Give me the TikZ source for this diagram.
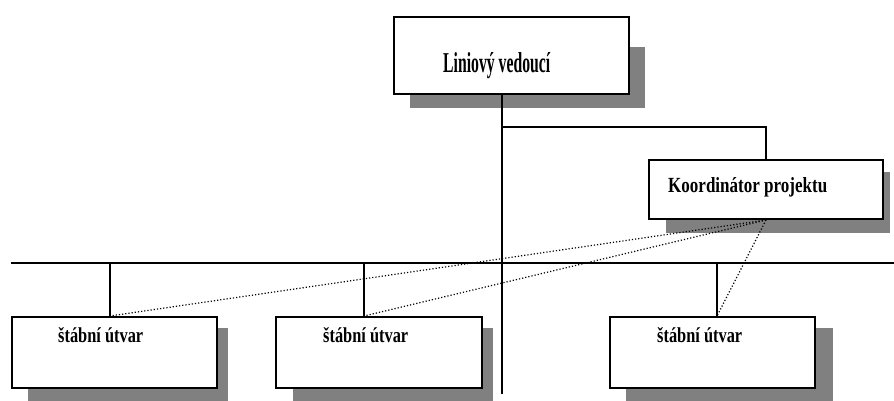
\documentclass[tikz,border=0pt]{standalone}
\usepackage{fontspec}
\setmainfont{Liberation Serif}
\usepackage{graphicx}
\definecolor{shadowgray}{HTML}{808080}
\newcommand{\fittxt}[3]{\resizebox{#1}{#2}{\bfseries #3}}
\begin{document}
\begin{tikzpicture}[x=1pt,y=-1pt,
  box/.style={draw, line width=2pt, fill=white, inner sep=0pt, anchor=north west},
  shade/.style={fill=shadowgray},
  conn/.style={line width=2pt},
  dotln/.style={dotted, line width=1.2pt},
  lbl/.style={anchor=base west, inner sep=0pt}]
\useasboundingbox (0,0) rectangle (894,401);
% shadows
\fill[shade] (410,47) rectangle (645,108);
\fill[shade] (666,172) rectangle (890,233);
\fill[shade] (28,328) rectangle (228,401);
\fill[shade] (293,328) rectangle (493,401);
\fill[shade] (626,328) rectangle (833,401);
% coordinates
\coordinate (vbot) at (502,394);
\coordinate (br) at (502,127);
\coordinate (busL) at (11,263);
\coordinate (busR) at (894,263);
\coordinate (d1) at (110,263);
\coordinate (d2) at (364,263);
\coordinate (d3) at (717,263);
% boxes
\node[box, minimum width=235pt, minimum height=77pt] (lv) at (393,16) {};
\node[box, minimum width=234pt, minimum height=59pt] (ko) at (648,159) {};
\node[box, minimum width=205pt, minimum height=71pt] (s1) at (11,316) {};
\node[box, minimum width=206pt, minimum height=71pt] (s2) at (275,316) {};
\node[box, minimum width=205pt, minimum height=71pt] (s3) at (609,316) {};
% labels
\node[lbl] (t0) at (443,73) {\fittxt{107pt}{20pt}{Liniový vedoucí}};
\node[lbl] (t1) at (668,193) {\fittxt{159pt}{15pt}{Koordinátor projektu}};
\node[lbl] (t2) at (58,342) {\fittxt{85pt}{15pt}{štábní útvar}};
\node[lbl] (t3) at (323,342) {\fittxt{85pt}{15pt}{štábní útvar}};
\node[lbl] (t4) at (657,342) {\fittxt{85pt}{15pt}{štábní útvar}};
% connectors
\draw[conn] (vbot |- lv.south) -- (vbot);
\draw[conn] (br) -| (ko.north);
\draw[conn] (busL) -- (busR);
\draw[conn] (d1) -- (d1 |- s1.north);
\draw[conn] (d2) -- (d2 |- s2.north);
\draw[conn] (d3) -- (d3 |- s3.north);
% dotted
\draw[dotln] (ko.south) -- (d1 |- s1.north);
\draw[dotln] (ko.south) -- (d2 |- s2.north);
\draw[dotln] (ko.south) -- (d3 |- s3.north);
\end{tikzpicture}
\end{document}
